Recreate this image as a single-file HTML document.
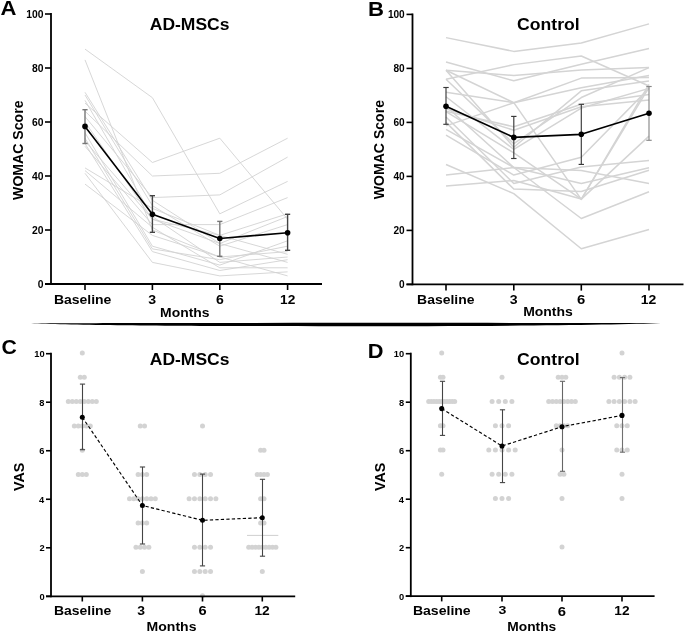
<!DOCTYPE html><html><head><meta charset="utf-8"><style>html,body{margin:0;padding:0;background:#fff;width:685px;height:632px;overflow:hidden}svg{display:block;will-change:transform}text{font-family:"Liberation Sans",sans-serif;font-weight:bold}</style></head><body>
<svg width="685" height="632" viewBox="0 0 685 632">
<rect width="685" height="632" fill="#fff"/>
<polyline points="85.00,49.10 152.40,97.70 219.80,213.80 287.60,181.40" fill="none" stroke="#d2d2d2" stroke-width="0.9" stroke-linejoin="round"/>
<polyline points="85.00,59.90 152.40,230.00 219.80,257.00 287.60,251.60" fill="none" stroke="#d2d2d2" stroke-width="0.9" stroke-linejoin="round"/>
<polyline points="85.00,92.30 152.40,200.30 219.80,243.50 287.60,216.50" fill="none" stroke="#d2d2d2" stroke-width="0.9" stroke-linejoin="round"/>
<polyline points="85.00,95.00 152.40,205.70 219.80,246.20 287.60,224.60" fill="none" stroke="#d2d2d2" stroke-width="0.9" stroke-linejoin="round"/>
<polyline points="85.00,100.40 152.40,216.50 219.80,262.40 287.60,257.00" fill="none" stroke="#d2d2d2" stroke-width="0.9" stroke-linejoin="round"/>
<polyline points="85.00,103.10 152.40,162.50 219.80,138.20 287.60,219.20" fill="none" stroke="#d2d2d2" stroke-width="0.9" stroke-linejoin="round"/>
<polyline points="85.00,111.20 152.40,176.00 219.80,173.30 287.60,138.20" fill="none" stroke="#d2d2d2" stroke-width="0.9" stroke-linejoin="round"/>
<polyline points="85.00,116.60 152.40,197.60 219.80,194.90 287.60,157.10" fill="none" stroke="#d2d2d2" stroke-width="0.9" stroke-linejoin="round"/>
<polyline points="85.00,122.00 152.40,219.20 219.80,235.40 287.60,213.80" fill="none" stroke="#d2d2d2" stroke-width="0.9" stroke-linejoin="round"/>
<polyline points="85.00,132.80 152.40,246.20 219.80,265.10 287.60,240.80" fill="none" stroke="#d2d2d2" stroke-width="0.9" stroke-linejoin="round"/>
<polyline points="85.00,138.20 152.40,248.90 219.80,259.70 287.60,246.20" fill="none" stroke="#d2d2d2" stroke-width="0.9" stroke-linejoin="round"/>
<polyline points="85.00,143.60 152.40,251.60 219.80,270.50 287.60,259.70" fill="none" stroke="#d2d2d2" stroke-width="0.9" stroke-linejoin="round"/>
<polyline points="85.00,146.30 152.40,224.60 219.80,224.60 287.60,197.60" fill="none" stroke="#d2d2d2" stroke-width="0.9" stroke-linejoin="round"/>
<polyline points="85.00,167.90 152.40,208.40 219.80,235.40 287.60,254.30" fill="none" stroke="#d2d2d2" stroke-width="0.9" stroke-linejoin="round"/>
<polyline points="85.00,170.60 152.40,227.30 219.80,267.80 287.60,267.80" fill="none" stroke="#d2d2d2" stroke-width="0.9" stroke-linejoin="round"/>
<polyline points="85.00,173.30 152.40,262.40 219.80,275.90 287.60,271.85" fill="none" stroke="#d2d2d2" stroke-width="0.9" stroke-linejoin="round"/>
<polyline points="85.00,184.10 152.40,235.40 219.80,257.00 287.60,275.90" fill="none" stroke="#d2d2d2" stroke-width="0.9" stroke-linejoin="round"/>
<polyline points="85.00,140.90 152.40,219.20 219.80,243.50 287.60,262.40" fill="none" stroke="#d2d2d2" stroke-width="0.9" stroke-linejoin="round"/>
<line x1="85.00" y1="109.70" x2="85.00" y2="143.50" stroke="#777" stroke-width="1.4" />
<line x1="82.40" y1="109.70" x2="87.60" y2="109.70" stroke="#777" stroke-width="1.4" />
<line x1="82.40" y1="143.50" x2="87.60" y2="143.50" stroke="#777" stroke-width="1.4" />
<line x1="152.40" y1="195.70" x2="152.40" y2="232.30" stroke="#444" stroke-width="1.4" />
<line x1="149.80" y1="195.70" x2="155.00" y2="195.70" stroke="#444" stroke-width="1.4" />
<line x1="149.80" y1="232.30" x2="155.00" y2="232.30" stroke="#444" stroke-width="1.4" />
<line x1="219.80" y1="221.40" x2="219.80" y2="256.30" stroke="#777" stroke-width="1.4" />
<line x1="217.20" y1="221.40" x2="222.40" y2="221.40" stroke="#777" stroke-width="1.4" />
<line x1="217.20" y1="256.30" x2="222.40" y2="256.30" stroke="#777" stroke-width="1.4" />
<line x1="287.60" y1="214.30" x2="287.60" y2="250.30" stroke="#444" stroke-width="1.4" />
<line x1="285.00" y1="214.30" x2="290.20" y2="214.30" stroke="#444" stroke-width="1.4" />
<line x1="285.00" y1="250.30" x2="290.20" y2="250.30" stroke="#444" stroke-width="1.4" />
<polyline points="85.00,126.40 152.40,214.20 219.80,238.50 287.60,232.70" fill="none" stroke="#000" stroke-width="1.6"  stroke-linejoin="round"/>
<circle cx="85.00" cy="126.40" r="2.8" fill="#000"/>
<circle cx="152.40" cy="214.20" r="2.8" fill="#000"/>
<circle cx="219.80" cy="238.50" r="2.8" fill="#000"/>
<circle cx="287.60" cy="232.70" r="2.8" fill="#000"/>
<line x1="51.00" y1="13.10" x2="51.00" y2="284.90" stroke="#000" stroke-width="1.8" />
<line x1="45.00" y1="284.00" x2="322.00" y2="284.00" stroke="#000" stroke-width="1.8" />
<line x1="45.00" y1="284.00" x2="51.00" y2="284.00" stroke="#000" stroke-width="1.6" />
<text transform="translate(37.65,287.79) scale(0.9700,1.0000)" font-size="10.70" fill="#000">0</text>
<line x1="45.00" y1="230.00" x2="51.00" y2="230.00" stroke="#000" stroke-width="1.6" />
<text transform="translate(31.89,233.79) scale(0.9700,1.0000)" font-size="10.70" fill="#000">20</text>
<line x1="45.00" y1="176.00" x2="51.00" y2="176.00" stroke="#000" stroke-width="1.6" />
<text transform="translate(31.89,179.79) scale(0.9700,1.0000)" font-size="10.70" fill="#000">40</text>
<line x1="45.00" y1="122.00" x2="51.00" y2="122.00" stroke="#000" stroke-width="1.6" />
<text transform="translate(31.89,125.79) scale(0.9700,1.0000)" font-size="10.70" fill="#000">60</text>
<line x1="45.00" y1="68.00" x2="51.00" y2="68.00" stroke="#000" stroke-width="1.6" />
<text transform="translate(31.89,71.79) scale(0.9700,1.0000)" font-size="10.70" fill="#000">80</text>
<line x1="45.00" y1="14.00" x2="51.00" y2="14.00" stroke="#000" stroke-width="1.6" />
<text transform="translate(26.13,17.79) scale(0.9700,1.0000)" font-size="10.70" fill="#000">100</text>
<line x1="85.00" y1="284.00" x2="85.00" y2="290.00" stroke="#000" stroke-width="1.6" />
<text transform="translate(53.89,304.07) scale(1.0939,1.0000)" font-size="12.79" fill="#000">Baseline</text>
<line x1="152.40" y1="284.00" x2="152.40" y2="290.00" stroke="#000" stroke-width="1.6" />
<text transform="translate(148.15,304.07) scale(1.0913,1.0000)" font-size="12.96" fill="#000">3</text>
<line x1="219.80" y1="284.00" x2="219.80" y2="290.00" stroke="#000" stroke-width="1.6" />
<text transform="translate(216.11,303.97) scale(1.0820,1.0000)" font-size="12.96" fill="#000">6</text>
<line x1="287.60" y1="284.00" x2="287.60" y2="290.00" stroke="#000" stroke-width="1.6" />
<text transform="translate(280.01,303.90) scale(1.0680,1.0000)" font-size="12.86" fill="#000">12</text>
<text transform="translate(0.45,14.60) scale(1.0887,1.0000)" font-size="20.29" fill="#000">A</text>
<text transform="translate(149.76,29.84) scale(1.0808,1.0000)" font-size="16.20" fill="#000">AD-MSCs</text>
<text transform="translate(160.10,316.87) scale(1.1115,1.0000)" font-size="12.52" fill="#000">Months</text>
<text transform="translate(23.46,199.90) rotate(-90) scale(1.0217,1.0000)" font-size="13.80" fill="#000">WOMAC Score</text>
<polyline points="446.00,37.62 513.80,51.39 581.30,43.02 649.00,23.85" fill="none" stroke="#d4d4d4" stroke-width="1.5" stroke-linejoin="round"/>
<polyline points="446.00,61.92 513.80,80.82 581.30,64.35 649.00,48.42" fill="none" stroke="#d4d4d4" stroke-width="1.5" stroke-linejoin="round"/>
<polyline points="446.00,70.29 513.80,75.42 581.30,70.02 649.00,67.59" fill="none" stroke="#d4d4d4" stroke-width="1.5" stroke-linejoin="round"/>
<polyline points="446.00,79.20 513.80,64.62 581.30,55.98 649.00,85.95" fill="none" stroke="#d4d4d4" stroke-width="1.5" stroke-linejoin="round"/>
<polyline points="446.00,70.29 513.80,102.69 581.30,78.12 649.00,77.58" fill="none" stroke="#d4d4d4" stroke-width="1.5" stroke-linejoin="round"/>
<polyline points="446.00,92.16 513.80,102.69 581.30,199.35 649.00,84.33" fill="none" stroke="#d4d4d4" stroke-width="1.5" stroke-linejoin="round"/>
<polyline points="446.00,125.91 513.80,102.69 581.30,87.84 649.00,75.42" fill="none" stroke="#d4d4d4" stroke-width="1.5" stroke-linejoin="round"/>
<polyline points="446.00,111.33 513.80,126.72 581.30,104.31 649.00,94.59" fill="none" stroke="#d4d4d4" stroke-width="1.5" stroke-linejoin="round"/>
<polyline points="446.00,108.90 513.80,130.23 581.30,106.74 649.00,99.99" fill="none" stroke="#d4d4d4" stroke-width="1.5" stroke-linejoin="round"/>
<polyline points="446.00,70.29 513.80,147.24 581.30,90.81 649.00,81.09" fill="none" stroke="#d4d4d4" stroke-width="1.5" stroke-linejoin="round"/>
<polyline points="446.00,79.20 513.80,143.73 581.30,97.56 649.00,67.59" fill="none" stroke="#d4d4d4" stroke-width="1.5" stroke-linejoin="round"/>
<polyline points="446.00,96.75 513.80,149.40 581.30,108.09 649.00,88.38" fill="none" stroke="#d4d4d4" stroke-width="1.5" stroke-linejoin="round"/>
<polyline points="446.00,111.60 513.80,152.91 581.30,199.08 649.00,87.30" fill="none" stroke="#d4d4d4" stroke-width="1.5" stroke-linejoin="round"/>
<polyline points="446.00,164.52 513.80,193.68 581.30,248.76 649.00,229.59" fill="none" stroke="#d4d4d4" stroke-width="1.5" stroke-linejoin="round"/>
<polyline points="446.00,175.05 513.80,167.49 581.30,170.46 649.00,183.42" fill="none" stroke="#d4d4d4" stroke-width="1.5" stroke-linejoin="round"/>
<polyline points="446.00,129.42 513.80,167.49 581.30,218.52 649.00,191.79" fill="none" stroke="#d4d4d4" stroke-width="1.5" stroke-linejoin="round"/>
<polyline points="446.00,135.09 513.80,175.05 581.30,157.23 649.00,88.38" fill="none" stroke="#d4d4d4" stroke-width="1.5" stroke-linejoin="round"/>
<polyline points="446.00,186.12 513.80,180.45 581.30,199.08 649.00,136.17" fill="none" stroke="#d4d4d4" stroke-width="1.5" stroke-linejoin="round"/>
<polyline points="446.00,117.00 513.80,183.42 581.30,166.95 649.00,160.47" fill="none" stroke="#d4d4d4" stroke-width="1.5" stroke-linejoin="round"/>
<polyline points="446.00,122.40 513.80,189.09 581.30,191.52 649.00,170.19" fill="none" stroke="#d4d4d4" stroke-width="1.5" stroke-linejoin="round"/>
<polyline points="446.00,106.20 513.80,167.49 581.30,183.42 649.00,167.76" fill="none" stroke="#d4d4d4" stroke-width="1.5" stroke-linejoin="round"/>
<line x1="446.00" y1="87.50" x2="446.00" y2="124.30" stroke="#3a3a3a" stroke-width="1.15" />
<line x1="443.30" y1="87.50" x2="448.70" y2="87.50" stroke="#3a3a3a" stroke-width="1.15" />
<line x1="443.30" y1="124.30" x2="448.70" y2="124.30" stroke="#3a3a3a" stroke-width="1.15" />
<line x1="513.80" y1="116.40" x2="513.80" y2="158.50" stroke="#3a3a3a" stroke-width="1.15" />
<line x1="511.10" y1="116.40" x2="516.50" y2="116.40" stroke="#3a3a3a" stroke-width="1.15" />
<line x1="511.10" y1="158.50" x2="516.50" y2="158.50" stroke="#3a3a3a" stroke-width="1.15" />
<line x1="581.30" y1="104.30" x2="581.30" y2="164.40" stroke="#3a3a3a" stroke-width="1.15" />
<line x1="578.60" y1="104.30" x2="584.00" y2="104.30" stroke="#3a3a3a" stroke-width="1.15" />
<line x1="578.60" y1="164.40" x2="584.00" y2="164.40" stroke="#3a3a3a" stroke-width="1.15" />
<line x1="649.00" y1="86.50" x2="649.00" y2="140.30" stroke="#888" stroke-width="1.15" />
<line x1="646.30" y1="86.50" x2="651.70" y2="86.50" stroke="#888" stroke-width="1.15" />
<line x1="646.30" y1="140.30" x2="651.70" y2="140.30" stroke="#888" stroke-width="1.15" />
<polyline points="446.00,106.30 513.80,137.40 581.30,134.30 649.00,113.20" fill="none" stroke="#000" stroke-width="1.7"  stroke-linejoin="round"/>
<circle cx="446.00" cy="106.30" r="2.8" fill="#000"/>
<circle cx="513.80" cy="137.40" r="2.8" fill="#000"/>
<circle cx="581.30" cy="134.30" r="2.8" fill="#000"/>
<circle cx="649.00" cy="113.20" r="2.8" fill="#000"/>
<line x1="412.50" y1="13.50" x2="412.50" y2="285.20" stroke="#000" stroke-width="1.8" />
<line x1="406.50" y1="284.30" x2="683.50" y2="284.30" stroke="#000" stroke-width="1.8" />
<line x1="406.50" y1="284.40" x2="412.50" y2="284.40" stroke="#000" stroke-width="1.6" />
<text transform="translate(399.10,287.98) scale(1.0000,1.0000)" font-size="10.10" fill="#000">0</text>
<line x1="406.50" y1="230.40" x2="412.50" y2="230.40" stroke="#000" stroke-width="1.6" />
<text transform="translate(393.49,233.98) scale(1.0000,1.0000)" font-size="10.10" fill="#000">20</text>
<line x1="406.50" y1="176.40" x2="412.50" y2="176.40" stroke="#000" stroke-width="1.6" />
<text transform="translate(393.49,179.98) scale(1.0000,1.0000)" font-size="10.10" fill="#000">40</text>
<line x1="406.50" y1="122.40" x2="412.50" y2="122.40" stroke="#000" stroke-width="1.6" />
<text transform="translate(393.49,125.98) scale(1.0000,1.0000)" font-size="10.10" fill="#000">60</text>
<line x1="406.50" y1="68.40" x2="412.50" y2="68.40" stroke="#000" stroke-width="1.6" />
<text transform="translate(393.49,71.98) scale(1.0000,1.0000)" font-size="10.10" fill="#000">80</text>
<line x1="406.50" y1="14.40" x2="412.50" y2="14.40" stroke="#000" stroke-width="1.6" />
<text transform="translate(387.89,17.98) scale(1.0000,1.0000)" font-size="10.10" fill="#000">100</text>
<line x1="446.00" y1="284.30" x2="446.00" y2="290.60" stroke="#000" stroke-width="1.6" />
<text transform="translate(417.09,304.07) scale(1.0785,1.0000)" font-size="12.93" fill="#000">Baseline</text>
<line x1="513.80" y1="284.30" x2="513.80" y2="290.60" stroke="#000" stroke-width="1.6" />
<text transform="translate(509.85,304.17) scale(1.1033,1.0000)" font-size="12.82" fill="#000">3</text>
<line x1="581.30" y1="284.30" x2="581.30" y2="290.60" stroke="#000" stroke-width="1.6" />
<text transform="translate(577.08,303.97) scale(1.1457,1.0000)" font-size="12.96" fill="#000">6</text>
<line x1="649.00" y1="284.30" x2="649.00" y2="290.60" stroke="#000" stroke-width="1.6" />
<text transform="translate(640.69,303.90) scale(1.0912,1.0000)" font-size="12.86" fill="#000">12</text>
<text transform="translate(368.06,16.20) scale(1.1146,1.0000)" font-size="19.86" fill="#000">B</text>
<text transform="translate(517.10,29.83) scale(1.0442,1.0000)" font-size="16.87" fill="#000">Control</text>
<text transform="translate(523.19,315.57) scale(1.1162,1.0000)" font-size="12.52" fill="#000">Months</text>
<text transform="translate(384.16,199.20) rotate(-90) scale(1.0197,1.0000)" font-size="13.80" fill="#000">WOMAC Score</text>
<path d="M31,323.2 C115,322.8 575,322.8 661,323.0 C575,327.3 115,327.3 31,323.2 Z" fill="#000"/>
<circle cx="82.30" cy="353.10" r="2.5" fill="#d3d3d3"/>
<circle cx="80.30" cy="377.36" r="2.5" fill="#d3d3d3"/>
<circle cx="84.30" cy="377.36" r="2.5" fill="#d3d3d3"/>
<circle cx="68.30" cy="401.62" r="2.5" fill="#d3d3d3"/>
<circle cx="72.30" cy="401.62" r="2.5" fill="#d3d3d3"/>
<circle cx="76.30" cy="401.62" r="2.5" fill="#d3d3d3"/>
<circle cx="80.30" cy="401.62" r="2.5" fill="#d3d3d3"/>
<circle cx="84.30" cy="401.62" r="2.5" fill="#d3d3d3"/>
<circle cx="88.30" cy="401.62" r="2.5" fill="#d3d3d3"/>
<circle cx="92.30" cy="401.62" r="2.5" fill="#d3d3d3"/>
<circle cx="96.30" cy="401.62" r="2.5" fill="#d3d3d3"/>
<circle cx="74.30" cy="425.88" r="2.5" fill="#d3d3d3"/>
<circle cx="78.30" cy="425.88" r="2.5" fill="#d3d3d3"/>
<circle cx="82.30" cy="425.88" r="2.5" fill="#d3d3d3"/>
<circle cx="86.30" cy="425.88" r="2.5" fill="#d3d3d3"/>
<circle cx="90.30" cy="425.88" r="2.5" fill="#d3d3d3"/>
<circle cx="82.30" cy="450.14" r="2.5" fill="#d3d3d3"/>
<circle cx="78.30" cy="474.40" r="2.5" fill="#d3d3d3"/>
<circle cx="82.30" cy="474.40" r="2.5" fill="#d3d3d3"/>
<circle cx="86.30" cy="474.40" r="2.5" fill="#d3d3d3"/>
<circle cx="140.25" cy="425.88" r="2.5" fill="#d3d3d3"/>
<circle cx="144.55" cy="425.88" r="2.5" fill="#d3d3d3"/>
<circle cx="138.10" cy="474.40" r="2.5" fill="#d3d3d3"/>
<circle cx="142.40" cy="474.40" r="2.5" fill="#d3d3d3"/>
<circle cx="146.70" cy="474.40" r="2.5" fill="#d3d3d3"/>
<circle cx="129.50" cy="498.66" r="2.5" fill="#d3d3d3"/>
<circle cx="133.80" cy="498.66" r="2.5" fill="#d3d3d3"/>
<circle cx="138.10" cy="498.66" r="2.5" fill="#d3d3d3"/>
<circle cx="142.40" cy="498.66" r="2.5" fill="#d3d3d3"/>
<circle cx="146.70" cy="498.66" r="2.5" fill="#d3d3d3"/>
<circle cx="151.00" cy="498.66" r="2.5" fill="#d3d3d3"/>
<circle cx="155.30" cy="498.66" r="2.5" fill="#d3d3d3"/>
<circle cx="138.10" cy="522.92" r="2.5" fill="#d3d3d3"/>
<circle cx="142.40" cy="522.92" r="2.5" fill="#d3d3d3"/>
<circle cx="146.70" cy="522.92" r="2.5" fill="#d3d3d3"/>
<circle cx="135.95" cy="547.18" r="2.5" fill="#d3d3d3"/>
<circle cx="140.25" cy="547.18" r="2.5" fill="#d3d3d3"/>
<circle cx="144.55" cy="547.18" r="2.5" fill="#d3d3d3"/>
<circle cx="148.85" cy="547.18" r="2.5" fill="#d3d3d3"/>
<circle cx="142.40" cy="571.44" r="2.5" fill="#d3d3d3"/>
<circle cx="202.50" cy="425.88" r="2.5" fill="#d3d3d3"/>
<circle cx="194.47" cy="474.40" r="2.5" fill="#d3d3d3"/>
<circle cx="199.82" cy="474.40" r="2.5" fill="#d3d3d3"/>
<circle cx="205.18" cy="474.40" r="2.5" fill="#d3d3d3"/>
<circle cx="210.53" cy="474.40" r="2.5" fill="#d3d3d3"/>
<circle cx="189.12" cy="498.66" r="2.5" fill="#d3d3d3"/>
<circle cx="194.47" cy="498.66" r="2.5" fill="#d3d3d3"/>
<circle cx="199.82" cy="498.66" r="2.5" fill="#d3d3d3"/>
<circle cx="205.18" cy="498.66" r="2.5" fill="#d3d3d3"/>
<circle cx="210.53" cy="498.66" r="2.5" fill="#d3d3d3"/>
<circle cx="215.88" cy="498.66" r="2.5" fill="#d3d3d3"/>
<circle cx="194.47" cy="547.18" r="2.5" fill="#d3d3d3"/>
<circle cx="199.82" cy="547.18" r="2.5" fill="#d3d3d3"/>
<circle cx="205.18" cy="547.18" r="2.5" fill="#d3d3d3"/>
<circle cx="210.53" cy="547.18" r="2.5" fill="#d3d3d3"/>
<circle cx="194.47" cy="571.44" r="2.5" fill="#d3d3d3"/>
<circle cx="199.82" cy="571.44" r="2.5" fill="#d3d3d3"/>
<circle cx="205.18" cy="571.44" r="2.5" fill="#d3d3d3"/>
<circle cx="210.53" cy="571.44" r="2.5" fill="#d3d3d3"/>
<circle cx="202.50" cy="595.70" r="2.5" fill="#d3d3d3"/>
<circle cx="260.60" cy="450.14" r="2.5" fill="#d3d3d3"/>
<circle cx="264.00" cy="450.14" r="2.5" fill="#d3d3d3"/>
<circle cx="257.20" cy="474.40" r="2.5" fill="#d3d3d3"/>
<circle cx="260.60" cy="474.40" r="2.5" fill="#d3d3d3"/>
<circle cx="264.00" cy="474.40" r="2.5" fill="#d3d3d3"/>
<circle cx="267.40" cy="474.40" r="2.5" fill="#d3d3d3"/>
<circle cx="260.60" cy="498.66" r="2.5" fill="#d3d3d3"/>
<circle cx="264.00" cy="498.66" r="2.5" fill="#d3d3d3"/>
<circle cx="260.60" cy="522.92" r="2.5" fill="#d3d3d3"/>
<circle cx="264.00" cy="522.92" r="2.5" fill="#d3d3d3"/>
<circle cx="248.70" cy="547.18" r="2.5" fill="#d3d3d3"/>
<circle cx="252.10" cy="547.18" r="2.5" fill="#d3d3d3"/>
<circle cx="255.50" cy="547.18" r="2.5" fill="#d3d3d3"/>
<circle cx="258.90" cy="547.18" r="2.5" fill="#d3d3d3"/>
<circle cx="262.30" cy="547.18" r="2.5" fill="#d3d3d3"/>
<circle cx="265.70" cy="547.18" r="2.5" fill="#d3d3d3"/>
<circle cx="269.10" cy="547.18" r="2.5" fill="#d3d3d3"/>
<circle cx="272.50" cy="547.18" r="2.5" fill="#d3d3d3"/>
<circle cx="275.90" cy="547.18" r="2.5" fill="#d3d3d3"/>
<circle cx="262.30" cy="571.44" r="2.5" fill="#d3d3d3"/>
<line x1="247.00" y1="535.40" x2="278.30" y2="535.40" stroke="#cfcfcf" stroke-width="1" />
<line x1="82.50" y1="384.10" x2="82.50" y2="449.70" stroke="#444" stroke-width="1.1" />
<line x1="79.90" y1="384.10" x2="85.10" y2="384.10" stroke="#444" stroke-width="1.1" />
<line x1="79.90" y1="449.70" x2="85.10" y2="449.70" stroke="#444" stroke-width="1.1" />
<line x1="142.50" y1="467.00" x2="142.50" y2="544.00" stroke="#444" stroke-width="1.1" />
<line x1="139.90" y1="467.00" x2="145.10" y2="467.00" stroke="#444" stroke-width="1.1" />
<line x1="139.90" y1="544.00" x2="145.10" y2="544.00" stroke="#444" stroke-width="1.1" />
<line x1="202.50" y1="474.10" x2="202.50" y2="565.90" stroke="#444" stroke-width="1.1" />
<line x1="199.90" y1="474.10" x2="205.10" y2="474.10" stroke="#444" stroke-width="1.1" />
<line x1="199.90" y1="565.90" x2="205.10" y2="565.90" stroke="#444" stroke-width="1.1" />
<line x1="262.50" y1="479.30" x2="262.50" y2="556.20" stroke="#444" stroke-width="1.1" />
<line x1="259.90" y1="479.30" x2="265.10" y2="479.30" stroke="#444" stroke-width="1.1" />
<line x1="259.90" y1="556.20" x2="265.10" y2="556.20" stroke="#444" stroke-width="1.1" />
<polyline points="82.30,417.20 142.40,505.50 202.50,520.30 262.30,517.70" fill="none" stroke="#000" stroke-width="1.15" stroke-dasharray="3.3,2.2" stroke-linejoin="round"/>
<circle cx="82.30" cy="417.20" r="2.5" fill="#000"/>
<circle cx="142.40" cy="505.50" r="2.5" fill="#000"/>
<circle cx="202.50" cy="520.30" r="2.5" fill="#000"/>
<circle cx="262.30" cy="517.70" r="2.5" fill="#000"/>
<line x1="51.00" y1="352.70" x2="51.00" y2="597.20" stroke="#000" stroke-width="1.8" />
<line x1="46.00" y1="596.30" x2="295.20" y2="596.30" stroke="#000" stroke-width="1.8" />
<line x1="46.00" y1="596.30" x2="51.00" y2="596.30" stroke="#000" stroke-width="1.6" />
<text transform="translate(39.41,599.71) scale(1.0000,1.0000)" font-size="9.30" fill="#000">0</text>
<line x1="46.00" y1="547.78" x2="51.00" y2="547.78" stroke="#000" stroke-width="1.6" />
<text transform="translate(39.41,551.24) scale(1.0000,1.0000)" font-size="9.30" fill="#000">2</text>
<line x1="46.00" y1="499.26" x2="51.00" y2="499.26" stroke="#000" stroke-width="1.6" />
<text transform="translate(39.09,502.67) scale(1.0000,1.0000)" font-size="9.30" fill="#000">4</text>
<line x1="46.00" y1="450.74" x2="51.00" y2="450.74" stroke="#000" stroke-width="1.6" />
<text transform="translate(39.36,454.15) scale(1.0000,1.0000)" font-size="9.30" fill="#000">6</text>
<line x1="46.00" y1="402.22" x2="51.00" y2="402.22" stroke="#000" stroke-width="1.6" />
<text transform="translate(39.32,405.63) scale(1.0000,1.0000)" font-size="9.30" fill="#000">8</text>
<line x1="46.00" y1="353.70" x2="51.00" y2="353.70" stroke="#000" stroke-width="1.6" />
<text transform="translate(34.25,357.11) scale(1.0000,1.0000)" font-size="9.30" fill="#000">10</text>
<line x1="82.30" y1="596.30" x2="82.30" y2="601.50" stroke="#000" stroke-width="1.6" />
<text transform="translate(53.89,615.07) scale(1.1057,1.0000)" font-size="12.65" fill="#000">Baseline</text>
<line x1="142.40" y1="596.30" x2="142.40" y2="601.50" stroke="#000" stroke-width="1.6" />
<text transform="translate(137.15,614.77) scale(1.0642,1.0000)" font-size="13.10" fill="#000">3</text>
<line x1="202.50" y1="596.30" x2="202.50" y2="601.50" stroke="#000" stroke-width="1.6" />
<text transform="translate(198.39,614.97) scale(1.1678,1.0000)" font-size="12.54" fill="#000">6</text>
<line x1="262.30" y1="596.30" x2="262.30" y2="601.50" stroke="#000" stroke-width="1.6" />
<text transform="translate(254.40,615.10) scale(1.0878,1.0000)" font-size="12.71" fill="#000">12</text>
<text transform="translate(1.45,353.79) scale(1.0181,1.0000)" font-size="20.85" fill="#000">C</text>
<text transform="translate(149.76,364.64) scale(1.1097,1.0000)" font-size="15.77" fill="#000">AD-MSCs</text>
<text transform="translate(146.59,630.68) scale(1.1481,1.0000)" font-size="12.24" fill="#000">Months</text>
<text transform="translate(24.35,490.94) rotate(-90) scale(0.9797,1.0000)" font-size="14.51" fill="#000">VAS</text>
<circle cx="441.70" cy="353.10" r="2.5" fill="#d3d3d3"/>
<circle cx="440.40" cy="377.35" r="2.5" fill="#d3d3d3"/>
<circle cx="443.00" cy="377.35" r="2.5" fill="#d3d3d3"/>
<circle cx="428.70" cy="401.60" r="2.5" fill="#d3d3d3"/>
<circle cx="431.30" cy="401.60" r="2.5" fill="#d3d3d3"/>
<circle cx="433.90" cy="401.60" r="2.5" fill="#d3d3d3"/>
<circle cx="436.50" cy="401.60" r="2.5" fill="#d3d3d3"/>
<circle cx="439.10" cy="401.60" r="2.5" fill="#d3d3d3"/>
<circle cx="441.70" cy="401.60" r="2.5" fill="#d3d3d3"/>
<circle cx="444.30" cy="401.60" r="2.5" fill="#d3d3d3"/>
<circle cx="446.90" cy="401.60" r="2.5" fill="#d3d3d3"/>
<circle cx="449.50" cy="401.60" r="2.5" fill="#d3d3d3"/>
<circle cx="452.10" cy="401.60" r="2.5" fill="#d3d3d3"/>
<circle cx="454.70" cy="401.60" r="2.5" fill="#d3d3d3"/>
<circle cx="440.40" cy="425.85" r="2.5" fill="#d3d3d3"/>
<circle cx="443.00" cy="425.85" r="2.5" fill="#d3d3d3"/>
<circle cx="440.40" cy="450.10" r="2.5" fill="#d3d3d3"/>
<circle cx="443.00" cy="450.10" r="2.5" fill="#d3d3d3"/>
<circle cx="441.70" cy="474.35" r="2.5" fill="#d3d3d3"/>
<circle cx="502.00" cy="377.35" r="2.5" fill="#d3d3d3"/>
<circle cx="492.10" cy="401.60" r="2.5" fill="#d3d3d3"/>
<circle cx="498.70" cy="401.60" r="2.5" fill="#d3d3d3"/>
<circle cx="505.30" cy="401.60" r="2.5" fill="#d3d3d3"/>
<circle cx="511.90" cy="401.60" r="2.5" fill="#d3d3d3"/>
<circle cx="495.40" cy="425.85" r="2.5" fill="#d3d3d3"/>
<circle cx="502.00" cy="425.85" r="2.5" fill="#d3d3d3"/>
<circle cx="508.60" cy="425.85" r="2.5" fill="#d3d3d3"/>
<circle cx="488.80" cy="450.10" r="2.5" fill="#d3d3d3"/>
<circle cx="495.40" cy="450.10" r="2.5" fill="#d3d3d3"/>
<circle cx="502.00" cy="450.10" r="2.5" fill="#d3d3d3"/>
<circle cx="508.60" cy="450.10" r="2.5" fill="#d3d3d3"/>
<circle cx="515.20" cy="450.10" r="2.5" fill="#d3d3d3"/>
<circle cx="492.10" cy="474.35" r="2.5" fill="#d3d3d3"/>
<circle cx="498.70" cy="474.35" r="2.5" fill="#d3d3d3"/>
<circle cx="505.30" cy="474.35" r="2.5" fill="#d3d3d3"/>
<circle cx="511.90" cy="474.35" r="2.5" fill="#d3d3d3"/>
<circle cx="495.40" cy="498.60" r="2.5" fill="#d3d3d3"/>
<circle cx="502.00" cy="498.60" r="2.5" fill="#d3d3d3"/>
<circle cx="508.60" cy="498.60" r="2.5" fill="#d3d3d3"/>
<circle cx="558.20" cy="377.35" r="2.5" fill="#d3d3d3"/>
<circle cx="562.00" cy="377.35" r="2.5" fill="#d3d3d3"/>
<circle cx="565.80" cy="377.35" r="2.5" fill="#d3d3d3"/>
<circle cx="548.70" cy="401.60" r="2.5" fill="#d3d3d3"/>
<circle cx="552.50" cy="401.60" r="2.5" fill="#d3d3d3"/>
<circle cx="556.30" cy="401.60" r="2.5" fill="#d3d3d3"/>
<circle cx="560.10" cy="401.60" r="2.5" fill="#d3d3d3"/>
<circle cx="563.90" cy="401.60" r="2.5" fill="#d3d3d3"/>
<circle cx="567.70" cy="401.60" r="2.5" fill="#d3d3d3"/>
<circle cx="571.50" cy="401.60" r="2.5" fill="#d3d3d3"/>
<circle cx="575.30" cy="401.60" r="2.5" fill="#d3d3d3"/>
<circle cx="556.30" cy="425.85" r="2.5" fill="#d3d3d3"/>
<circle cx="560.10" cy="425.85" r="2.5" fill="#d3d3d3"/>
<circle cx="563.90" cy="425.85" r="2.5" fill="#d3d3d3"/>
<circle cx="567.70" cy="425.85" r="2.5" fill="#d3d3d3"/>
<circle cx="562.00" cy="450.10" r="2.5" fill="#d3d3d3"/>
<circle cx="560.10" cy="474.35" r="2.5" fill="#d3d3d3"/>
<circle cx="563.90" cy="474.35" r="2.5" fill="#d3d3d3"/>
<circle cx="562.00" cy="498.60" r="2.5" fill="#d3d3d3"/>
<circle cx="562.00" cy="547.10" r="2.5" fill="#d3d3d3"/>
<circle cx="622.00" cy="353.10" r="2.5" fill="#d3d3d3"/>
<circle cx="614.12" cy="377.35" r="2.5" fill="#d3d3d3"/>
<circle cx="619.38" cy="377.35" r="2.5" fill="#d3d3d3"/>
<circle cx="624.62" cy="377.35" r="2.5" fill="#d3d3d3"/>
<circle cx="629.88" cy="377.35" r="2.5" fill="#d3d3d3"/>
<circle cx="608.88" cy="401.60" r="2.5" fill="#d3d3d3"/>
<circle cx="614.12" cy="401.60" r="2.5" fill="#d3d3d3"/>
<circle cx="619.38" cy="401.60" r="2.5" fill="#d3d3d3"/>
<circle cx="624.62" cy="401.60" r="2.5" fill="#d3d3d3"/>
<circle cx="629.88" cy="401.60" r="2.5" fill="#d3d3d3"/>
<circle cx="635.12" cy="401.60" r="2.5" fill="#d3d3d3"/>
<circle cx="616.75" cy="425.85" r="2.5" fill="#d3d3d3"/>
<circle cx="622.00" cy="425.85" r="2.5" fill="#d3d3d3"/>
<circle cx="627.25" cy="425.85" r="2.5" fill="#d3d3d3"/>
<circle cx="616.75" cy="450.10" r="2.5" fill="#d3d3d3"/>
<circle cx="622.00" cy="450.10" r="2.5" fill="#d3d3d3"/>
<circle cx="627.25" cy="450.10" r="2.5" fill="#d3d3d3"/>
<circle cx="622.00" cy="474.35" r="2.5" fill="#d3d3d3"/>
<circle cx="622.00" cy="498.60" r="2.5" fill="#d3d3d3"/>
<line x1="442.50" y1="381.30" x2="442.50" y2="435.40" stroke="#444" stroke-width="1.1" />
<line x1="439.90" y1="381.30" x2="445.10" y2="381.30" stroke="#444" stroke-width="1.1" />
<line x1="439.90" y1="435.40" x2="445.10" y2="435.40" stroke="#444" stroke-width="1.1" />
<line x1="502.50" y1="409.80" x2="502.50" y2="482.60" stroke="#444" stroke-width="1.1" />
<line x1="499.90" y1="409.80" x2="505.10" y2="409.80" stroke="#444" stroke-width="1.1" />
<line x1="499.90" y1="482.60" x2="505.10" y2="482.60" stroke="#444" stroke-width="1.1" />
<line x1="562.50" y1="381.30" x2="562.50" y2="471.30" stroke="#666" stroke-width="1.1" />
<line x1="559.90" y1="381.30" x2="565.10" y2="381.30" stroke="#666" stroke-width="1.1" />
<line x1="559.90" y1="471.30" x2="565.10" y2="471.30" stroke="#666" stroke-width="1.1" />
<line x1="622.50" y1="377.60" x2="622.50" y2="452.20" stroke="#707070" stroke-width="1.1" />
<line x1="619.90" y1="377.60" x2="625.10" y2="377.60" stroke="#707070" stroke-width="1.1" />
<line x1="619.90" y1="452.20" x2="625.10" y2="452.20" stroke="#707070" stroke-width="1.1" />
<polyline points="441.70,408.60 502.00,446.00 562.00,426.70 622.00,415.40" fill="none" stroke="#000" stroke-width="1.15" stroke-dasharray="3.3,2.2" stroke-linejoin="round"/>
<circle cx="441.70" cy="408.60" r="2.55" fill="#000"/>
<circle cx="502.00" cy="446.00" r="2.55" fill="#000"/>
<circle cx="562.00" cy="426.70" r="2.55" fill="#000"/>
<circle cx="622.00" cy="415.40" r="2.55" fill="#000"/>
<line x1="410.80" y1="352.70" x2="410.80" y2="597.10" stroke="#000" stroke-width="1.8" />
<line x1="405.80" y1="596.20" x2="654.60" y2="596.20" stroke="#000" stroke-width="1.8" />
<line x1="405.80" y1="596.20" x2="410.80" y2="596.20" stroke="#000" stroke-width="1.6" />
<text transform="translate(399.01,599.61) scale(1.0000,1.0000)" font-size="9.30" fill="#000">0</text>
<line x1="405.80" y1="547.70" x2="410.80" y2="547.70" stroke="#000" stroke-width="1.6" />
<text transform="translate(399.01,551.16) scale(1.0000,1.0000)" font-size="9.30" fill="#000">2</text>
<line x1="405.80" y1="499.20" x2="410.80" y2="499.20" stroke="#000" stroke-width="1.6" />
<text transform="translate(398.69,502.61) scale(1.0000,1.0000)" font-size="9.30" fill="#000">4</text>
<line x1="405.80" y1="450.70" x2="410.80" y2="450.70" stroke="#000" stroke-width="1.6" />
<text transform="translate(398.96,454.11) scale(1.0000,1.0000)" font-size="9.30" fill="#000">6</text>
<line x1="405.80" y1="402.20" x2="410.80" y2="402.20" stroke="#000" stroke-width="1.6" />
<text transform="translate(398.92,405.61) scale(1.0000,1.0000)" font-size="9.30" fill="#000">8</text>
<line x1="405.80" y1="353.70" x2="410.80" y2="353.70" stroke="#000" stroke-width="1.6" />
<text transform="translate(393.85,357.11) scale(1.0000,1.0000)" font-size="9.30" fill="#000">10</text>
<line x1="441.70" y1="596.20" x2="441.70" y2="601.40" stroke="#000" stroke-width="1.6" />
<text transform="translate(412.89,615.07) scale(1.0657,1.0000)" font-size="13.20" fill="#000">Baseline</text>
<line x1="502.00" y1="596.20" x2="502.00" y2="601.40" stroke="#000" stroke-width="1.6" />
<text transform="translate(498.45,614.39) scale(1.2396,1.0000)" font-size="11.41" fill="#000">3</text>
<line x1="562.00" y1="596.20" x2="562.00" y2="601.40" stroke="#000" stroke-width="1.6" />
<text transform="translate(557.78,615.68) scale(1.2115,1.0000)" font-size="12.25" fill="#000">6</text>
<line x1="622.00" y1="596.20" x2="622.00" y2="601.40" stroke="#000" stroke-width="1.6" />
<text transform="translate(614.31,614.70) scale(1.1581,1.0000)" font-size="11.86" fill="#000">12</text>
<text transform="translate(367.68,358.00) scale(1.1136,1.0000)" font-size="19.57" fill="#000">D</text>
<text transform="translate(517.10,364.64) scale(1.0790,1.0000)" font-size="16.33" fill="#000">Control</text>
<text transform="translate(507.31,631.47) scale(1.1000,1.0000)" font-size="12.52" fill="#000">Months</text>
<text transform="translate(384.75,490.94) rotate(-90) scale(0.9430,1.0000)" font-size="15.07" fill="#000">VAS</text>
</svg></body></html>
